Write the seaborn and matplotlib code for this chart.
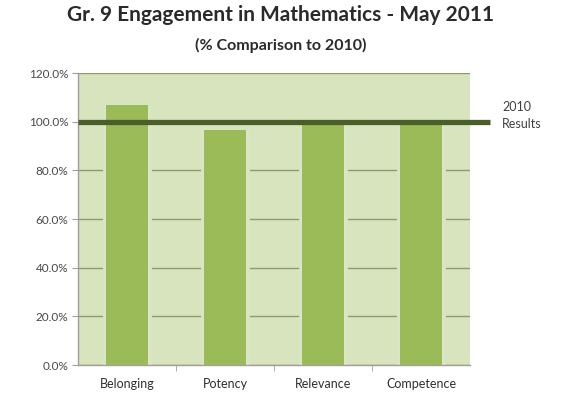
import matplotlib
matplotlib.use("Agg")
import matplotlib.pyplot as plt
import seaborn as sns
import pandas as pd
from matplotlib.ticker import PercentFormatter

categories = ["Belonging", "Potency", "Relevance", "Competence"]
values = [106.9, 96.6, 100.4, 99.6]
baseline = 100.0
yticks = [0, 20, 40, 60, 80, 100, 120]

sns.set_style("white")
plt.rcParams["font.family"] = ["Lato", "DejaVu Sans"]

df = pd.DataFrame({"Category": categories, "Value": values})

fig = plt.figure(figsize=(5.61, 3.96), dpi=100)
ax = fig.add_axes([78 / 561, 1 - 365 / 396, (470 - 78) / 561, (365 - 73) / 396])
ax.set_facecolor("#d7e4bd")

# soft light halo behind each column
sns.barplot(data=df, x="Category", y="Value", color="#dde8c8", width=0.47,
            saturation=1, ax=ax, zorder=2, edgecolor="#dae6c3", linewidth=2)
# main columns
sns.barplot(data=df, x="Category", y="Value", color="#9bbb59", width=0.42,
            saturation=1, ax=ax, zorder=3, linewidth=0)

ax.set_xlim(-0.5, 3.5)
ax.set_ylim(0, 120)
ax.set_yticks(yticks)
ax.yaxis.set_major_formatter(PercentFormatter(decimals=1))
ax.grid(axis="y", color="#8c9c70", linewidth=1.0, zorder=1)
ax.set_axisbelow(True)
ax.set_xlabel("")
ax.set_ylabel("")

for side in ["top", "right"]:
    ax.spines[side].set_visible(False)
for side in ["left", "bottom"]:
    ax.spines[side].set_color("#a0a0a0")
    ax.spines[side].set_linewidth(1.0)

ax.tick_params(axis="y", length=4, color="#a0a0a0", labelsize=8.5,
               labelcolor="#484848", pad=3, left=True)
ax.tick_params(axis="x", length=0, labelsize=9, labelcolor="#303030", pad=9)
ax.set_xticks([0.5, 1.5, 2.5], minor=True)
ax.tick_params(axis="x", which="minor", length=4, color="#a0a0a0", bottom=True)

# 2010 reference line, extended past the plot area
ax.plot([-0.5, 3.7], [baseline, baseline], color="#4a5e2a", linewidth=3.8,
        zorder=5, clip_on=False, solid_capstyle="butt")
ax.text(3.83, baseline + 2.5, "2010\nResults", ha="left", va="center",
        fontsize=9, color="#404040", linespacing=1.55)

fig.text(0.5, 1 - 15 / 396, "Gr. 9 Engagement in Mathematics - May 2011",
         ha="center", va="center", fontsize=15, fontweight="bold", color="#2a2a2a")
fig.text(0.5, 1 - 45 / 396, "(% Comparison to 2010)",
         ha="center", va="center", fontsize=11.5, fontweight="bold", color="#2a2a2a")

fig.savefig("out.png", dpi=100, facecolor="white")
